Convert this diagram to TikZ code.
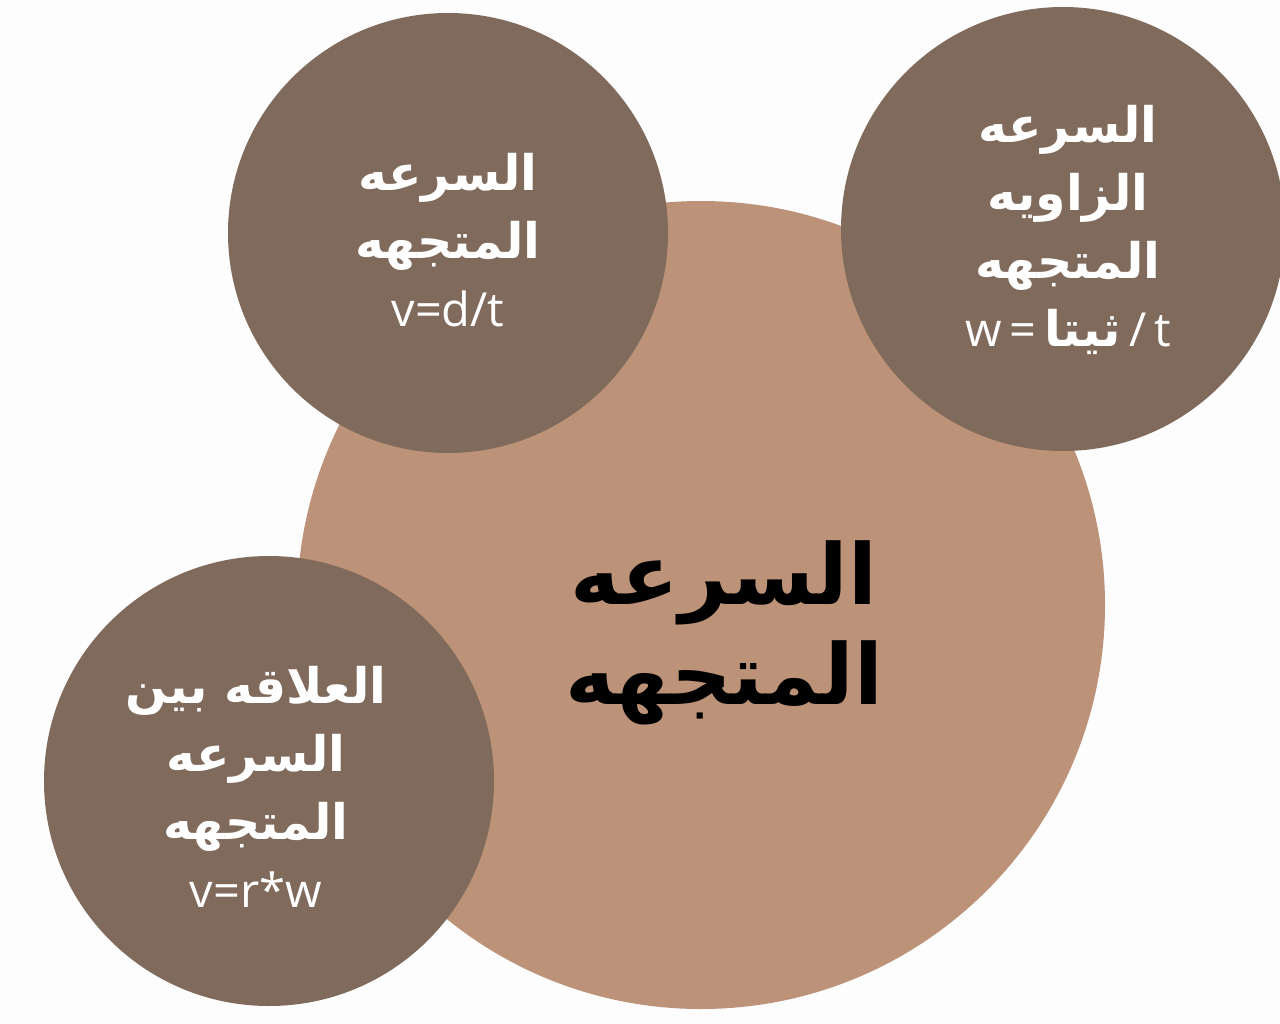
\documentclass[tikz,border=0pt]{standalone}
\usepackage{fontspec}
\setmainfont{Open Sans}
\newfontfamily\arabicfont[Script=Arabic]{DejaVu Sans}
\TeXXeTstate=1
\definecolor{bgc}{HTML}{FDFDFD}
\definecolor{bigc}{HTML}{BC9378}
\definecolor{smallc}{HTML}{7F6A5B}
\newcommand{\arb}[1]{{\arabicfont\bfseries\fontsize{49}{68}\selectfont\beginR #1\endR}}
\tikzset{
  bigdisc/.style={circle, fill=bigc, inner sep=0pt, minimum size=808pt},
  smalldisc/.style={circle, fill=smallc, inner sep=0pt},
  smalltext/.style={text=white, align=center, font=\fontsize{47}{68}\selectfont},
  bigtext/.style={text=black, align=center, font=\fontsize{84}{100}\selectfont},
}
\begin{document}
\begin{tikzpicture}[x=1pt,y=-1pt]
\fill[bgc] (0,0) rectangle (1280,1023);
\useasboundingbox (0,0) rectangle (1280,1023);
\node[bigdisc] (big) at (701,605) {};
\node[smalldisc, minimum size=440pt] (tl) at (448,233) {};
\node[smalldisc, minimum size=444pt] (tr) at (1063,229) {};
\node[smalldisc, minimum size=450pt] (bl) at (269,781) {};
\node[bigtext] (bigt) at (724,633) {{\arabicfont\bfseries\beginR السرعه\endR}\\{\arabicfont\bfseries\beginR المتجهه\endR}};
\node[smalltext] (tlt) at (448,240) {\arb{السرعه}\\\arb{المتجهه}\\v=d/t};
\node[smalltext] (trt) at (1068,230) {\arb{السرعه}\\\arb{الزاويه}\\\arb{المتجهه}\\w\,=\,\arb{ثيتا}\,/\,t};
\node[smalltext] (blt) at (256,787) {\arb{العلاقه بين}\\\arb{السرعه}\\\arb{المتجهه}\\v=r*w};
\end{tikzpicture}
\end{document}
